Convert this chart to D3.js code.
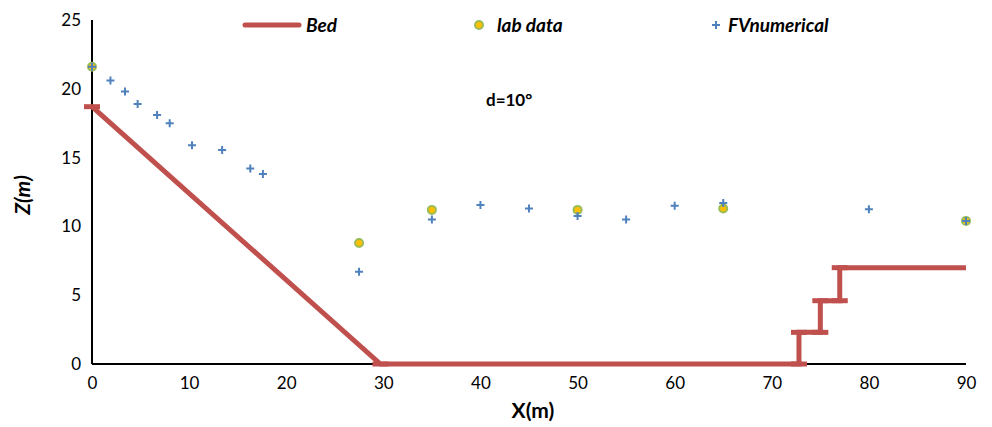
<!DOCTYPE html>
<html><head><meta charset="utf-8">
<script src="https://cdn.jsdelivr.net/npm/d3@7"></script>
<style>body{margin:0;background:#fff}svg{display:block}text{font-family:Lato,"Open Sans",sans-serif}</style>
</head><body><div id="chart"></div>
<script>
const bedX = [0, 29.7, 72.8, 72.8, 75, 75, 77, 77, 90];
const bedZ = [18.7, 0, 0, 2.3, 2.3, 4.6, 4.6, 7.0, 7.0];
const labX = [0, 27.5, 35, 50, 65, 90];
const labZ = [21.6, 8.8, 11.2, 11.2, 11.3, 10.4];
const fvX = [0, 1.9, 3.4, 4.7, 6.7, 8.0, 10.3, 13.4, 16.3, 17.6, 27.5, 35, 40, 45, 50, 55, 60, 65, 80, 90];
const fvZ = [21.6, 20.6, 19.8, 18.9, 18.1, 17.5, 15.9, 15.55, 14.2, 13.8, 6.7, 10.5, 11.55, 11.3, 10.75, 10.5, 11.5, 11.7, 11.25, 10.4];
const xTicks = [0,10,20,30,40,50,60,70,80,90];
const yTicks = [0,5,10,15,20,25];
const legendLabels = ["Bed", "lab data", "FVnumerical"];
const annotation = "d=10°";

const W = 992, H = 427;
const svg = d3.select("#chart").append("svg").attr("width", W).attr("height", H);
const x = d3.scaleLinear().domain([0, 90]).range([92, 966]);
const y = d3.scaleLinear().domain([0, 25]).range([364, 20]);

// axes
const xAxis = svg.append("g").attr("transform", `translate(0,${y(0)})`)
  .call(d3.axisBottom(x).tickValues(xTicks).tickSize(0).tickPadding(13));
const yAxis = svg.append("g").attr("transform", `translate(${x(0)},0)`)
  .call(d3.axisLeft(y).tickValues(yTicks).tickSize(0).tickPadding(11));
[xAxis, yAxis].forEach(g => {
  g.select(".domain").attr("stroke", "#000").attr("stroke-width", 2);
  g.selectAll("text").attr("font-size", 17).attr("fill", "#000").style("font-family", "Lato, 'Open Sans', sans-serif");
});
xAxis.select(".domain").attr("d", `M${x(0)},0H${x(90)}`);
yAxis.select(".domain").attr("d", `M0,${y(25)}V${y(0)}`);

// axis titles
svg.append("text").attr("x", (x(0)+x(90))/2 + 4).attr("y", 418).attr("text-anchor", "middle")
  .attr("font-size", 21).attr("font-weight", "bold").text("X(m)");
svg.append("text").attr("transform", `translate(30,${y(12.5) + 3}) rotate(-90)`).attr("text-anchor", "middle")
  .attr("font-size", 21).attr("font-weight", "bold").attr("font-style", "italic").text("Z(m)");

// bed line
const bed = bedX.map((d, i) => [d, bedZ[i]]);
const bedColor = "#C0504D";
svg.append("path").datum(bed)
  .attr("d", d3.line().x(d => x(d[0])).y(d => y(d[1])))
  .attr("fill", "none").attr("stroke", bedColor).attr("stroke-width", 5);
// dash markers at vertices (last one hidden under the line end)
svg.append("g").selectAll("line").data(bed.slice(0, -1)).join("line")
  .attr("x1", d => x(d[0]) - 8).attr("x2", d => x(d[0]) + 8)
  .attr("y1", d => y(d[1])).attr("y2", d => y(d[1]))
  .attr("stroke", bedColor).attr("stroke-width", 5);

// lab data circles
const lab = labX.map((d, i) => [d, labZ[i]]);
svg.append("g").selectAll("circle").data(lab).join("circle")
  .attr("cx", d => x(d[0])).attr("cy", d => y(d[1])).attr("r", 4)
  .attr("fill", "#FFC000").attr("stroke", "#9BBB59").attr("stroke-width", 2);

// FV numerical pluses
const fv = fvX.map((d, i) => [d, fvZ[i]]);
const plusColor = "#4F81BD";
svg.append("g").selectAll("path").data(fv).join("path")
  .attr("d", d => `M${x(d[0])-4},${y(d[1])}h8M${x(d[0])},${y(d[1])-4}v8`)
  .attr("stroke", plusColor).attr("stroke-width", 2).attr("fill", "none");

// legend
const lg = svg.append("g");
lg.append("line").attr("x1", 245).attr("x2", 299).attr("y1", 25).attr("y2", 25)
  .attr("stroke", bedColor).attr("stroke-width", 5).attr("stroke-linecap", "round");
const ls = {"font-size": 19, "font-weight": "bold", "font-style": "italic"};
const t1 = lg.append("text").attr("x", 306).attr("y", 32).text(legendLabels[0]);
lg.append("circle").attr("cx", 479).attr("cy", 25).attr("r", 4)
  .attr("fill", "#FFC000").attr("stroke", "#9BBB59").attr("stroke-width", 2);
const t2 = lg.append("text").attr("x", 497).attr("y", 32).text(legendLabels[1]);
lg.append("path").attr("d", "M712,25h8M716,21v8").attr("stroke", plusColor).attr("stroke-width", 2);
const t3 = lg.append("text").attr("x", 728).attr("y", 32).text(legendLabels[2]);
[t1, t2, t3].forEach(t => Object.entries(ls).forEach(([k, v]) => t.attr(k, v)));

// annotation
svg.append("text").attr("x", 486).attr("y", 106).attr("font-size", 17).attr("font-weight", "bold").text(annotation);
</script></body></html>
